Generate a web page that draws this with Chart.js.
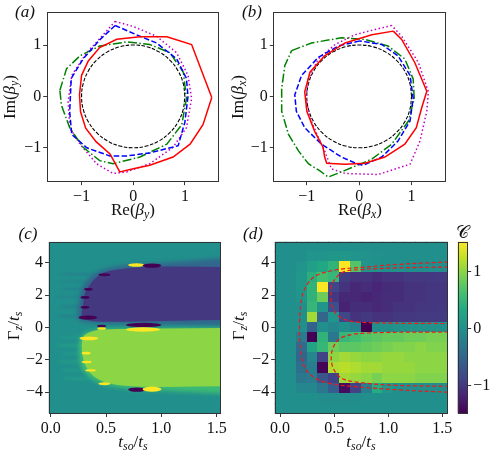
<!DOCTYPE html>
<html><head><meta charset="utf-8">
<script src="https://cdn.jsdelivr.net/npm/chart.js@4.4.0/dist/chart.umd.min.js"></script>
<style>
html,body{margin:0;padding:0;background:#fff;}
body{width:491px;height:453px;position:relative;overflow:hidden;font-family:'Liberation Serif','DejaVu Serif',serif;color:#111;}
canvas{position:absolute;}
.t{position:absolute;transform:translate(-50%,-50%);white-space:nowrap;font-size:17px;line-height:1;}
.r{transform:translate(-50%,-50%) rotate(-90deg);}
sub{font-size:70%;vertical-align:-0.3em;line-height:0;}
</style></head><body>
<canvas id="ca" width="245" height="225" style="left:0;top:0"></canvas>
<canvas id="cb" width="246" height="225" style="left:245px;top:0"></canvas>
<canvas id="cc" width="245" height="228" style="left:0;top:225px"></canvas>
<canvas id="cd" width="246" height="228" style="left:245px;top:225px"></canvas>
<canvas id="ce" width="36" height="228" style="left:455px;top:225px"></canvas>

<div class="t" style="left:25px;top:11px;font-style:italic">(a)</div>
<div class="t" style="left:252px;top:11px;font-style:italic">(b)</div>
<div class="t" style="left:28px;top:233px;font-style:italic">(c)</div>
<div class="t" style="left:253px;top:233px;font-style:italic">(d)</div>
<div class="t" style="left:133px;top:209px">Re(<i>β</i><sub><i>y</i></sub>)</div>
<div class="t r" style="left:9px;top:97px">Im(<i>β</i><sub><i>y</i></sub>)</div>
<div class="t" style="left:360px;top:209px">Re(<i>β</i><sub><i>x</i></sub>)</div>
<div class="t r" style="left:237px;top:97px">Im(<i>β</i><sub><i>x</i></sub>)</div>
<div class="t" style="left:133px;top:441px"><i>t</i><sub><i>so</i></sub>/<i>t</i><sub><i>s</i></sub></div>
<div class="t r" style="left:13px;top:326px">Γ<sub><i>z</i></sub>/<i>t</i><sub><i>s</i></sub></div>
<div class="t" style="left:361px;top:441px"><i>t</i><sub><i>so</i></sub>/<i>t</i><sub><i>s</i></sub></div>
<div class="t r" style="left:238px;top:326px">Γ<sub><i>z</i></sub>/<i>t</i><sub><i>s</i></sub></div>
<div class="t" style="left:462px;top:232px;font-size:18px">𝒞</div>

<script>
// ---------- panel (a) data ----------
const aRedX = [1.52, 1.13, 0.65, 0.13, -0.32, -0.65, -0.87, -1.0, -1.04, -1.02, -0.92, -0.72, -0.45, -0.26, 0.0, 0.32, 0.77, 1.1, 1.35, 1.52];
const aRedY = [-0.02, 1.01, 1.16, 1.16, 1.11, 0.95, 0.69, 0.41, 0.03, -0.3, -0.62, -0.88, -1.12, -1.47, -1.41, -1.34, -1.18, -0.93, -0.55, -0.02];
const aBlueX = [-0.35, -0.65, -0.97, -1.2, -1.23, -1.19, -0.9, -0.45, -0.13, 0.32, 0.87, 1.0, 1.06, 1.03, 0.84, 0.45, 0.06, -0.35];
const aBlueY = [1.38, 1.1, 0.73, 0.35, -0.3, -0.74, -1.0, -1.16, -1.16, -1.1, -0.96, -0.5, 0.0, 0.35, 0.73, 1.04, 1.2, 1.38];
const aMagX = [-0.35, 0.0, 0.45, 0.84, 1.06, 1.13, 1.03, 0.77, 0.32, -0.13, -0.39, -0.71, -1.03, -1.23, -1.26, -1.19, -0.9, -0.58, -0.35];
const aMagY = [1.46, 1.36, 1.17, 0.85, 0.41, -0.04, -0.61, -0.99, -1.31, -1.47, -1.5, -1.31, -0.93, -0.61, -0.1, 0.41, 0.85, 1.2, 1.46];
const aGreenX = [-1.42, -1.29, -1.03, -0.65, -0.13, 0.32, 0.71, 0.97, 1.03, 0.94, 0.65, 0.13, -0.39, -0.65, -0.97, -1.23, -1.39, -1.42];
const aGreenY = [0.12, 0.54, 0.79, 0.98, 1.06, 1.01, 0.85, 0.47, -0.04, -0.55, -0.93, -1.18, -1.31, -1.25, -0.99, -0.61, -0.17, 0.12];
// unit circle (both panels)
const circX = [1, 0.966, 0.866, 0.707, 0.5, 0.259, 0, -0.259, -0.5, -0.707, -0.866, -0.966, -1, -0.966, -0.866, -0.707, -0.5, -0.259, 0, 0.259, 0.5, 0.707, 0.866, 0.966, 1];
const circY = [0, 0.259, 0.5, 0.707, 0.866, 0.966, 1, 0.966, 0.866, 0.707, 0.5, 0.259, 0, -0.259, -0.5, -0.707, -0.866, -0.966, -1, -0.966, -0.866, -0.707, -0.5, -0.259, 0];
// ---------- panel (b) data ----------
const bRedX = [0.65, 0.24, -0.27, -0.66, -0.94, -1.04, -1.0, -0.85, -0.69, -0.66, -0.62, -0.27, 0.11, 0.49, 0.87, 1.09, 1.19, 1.29, 1.06, 0.81, 0.65];
const bRedY = [1.27, 1.2, 1.04, 0.79, 0.47, 0.09, -0.29, -0.68, -0.99, -1.18, -1.3, -1.32, -1.3, -1.18, -0.93, -0.61, -0.23, 0.1, 0.66, 1.11, 1.27];
const bMagX = [0.62, 0.3, -0.08, -0.46, -0.78, -0.97, -1.02, -0.94, -0.78, -0.66, -0.53, -0.27, 0.36, 0.97, 1.16, 1.29, 1.32, 1.13, 0.81, 0.62];
const bMagY = [1.38, 1.3, 1.2, 1.01, 0.73, 0.34, -0.04, -0.42, -0.8, -1.06, -1.41, -1.5, -1.52, -1.32, -0.87, -0.29, 0.09, 0.66, 1.17, 1.38];
const bGreenX = [-1.29, -0.91, -0.34, 0.11, 0.55, 0.87, 1.03, 1.05, 0.94, 0.62, 0.24, -0.27, -0.59, -0.75, -0.97, -1.16, -1.35, -1.48, -1.48, -1.42, -1.29];
const bGreenY = [0.89, 1.04, 1.14, 1.11, 0.98, 0.73, 0.34, -0.04, -0.48, -0.93, -1.22, -1.44, -1.57, -1.45, -1.31, -1.06, -0.74, -0.29, 0.15, 0.6, 0.89];
const bBlueX = [0.01, -0.4, -0.78, -1.1, -1.23, -1.2, -1.04, -0.72, -0.34, -0.02, 0.08, 0.43, 0.74, 0.97, 1.03, 0.97, 0.74, 0.43, 0.01];
const bBlueY = [1.08, 0.98, 0.76, 0.41, 0.03, -0.29, -0.61, -0.93, -1.18, -1.32, -1.34, -1.18, -0.87, -0.48, -0.04, 0.41, 0.79, 1.01, 1.08];
// ---------- tick labels ----------
const reImTicks = [-1, 0, 1];
const tsoTicks = [0.0, 0.5, 1.0, 1.5];
const gammaTicks = [-4, -2, 0, 2, 4];
const cbarTicks = [-1, 0, 1];
// ---------- panel (c) regions ----------
const cPurpleHaloX = [1.56, 1.2, 0.9, 0.7, 0.55, 0.42, 0.33, 0.28, 0.25, 0.24, 0.25, 0.4, 0.7, 1.56];
const cPurpleHaloY = [4.3, 4.1, 3.95, 3.9, 3.75, 3.5, 3.0, 2.5, 1.5, 0.8, 0.4, 0.25, 0.22, 0.12];
const cPurpleX = [1.56, 1.2, 0.95, 0.75, 0.6, 0.5, 0.45, 0.39, 0.35, 0.31, 0.3, 0.29, 0.28, 0.28, 0.32, 0.45, 0.7, 1.56];
const cPurpleY = [3.75, 3.78, 3.78, 3.72, 3.6, 3.45, 3.3, 3.0, 2.6, 2.2, 1.8, 1.3, 0.9, 0.6, 0.45, 0.35, 0.36, 0.48];
const cGreenHaloX = [1.56, 0.5, 0.35, 0.26, 0.25, 0.27, 0.33, 0.45, 0.6, 0.8, 1.2, 1.56];
const cGreenHaloY = [-0.02, -0.02, -0.2, -0.5, -1.5, -2.5, -3.0, -3.5, -3.72, -3.85, -3.95, -4.1];
const cGreenX = [1.56, 0.5, 0.38, 0.3, 0.28, 0.28, 0.3, 0.33, 0.38, 0.47, 0.6, 0.75, 1.0, 1.56];
const cGreenY = [-0.02, -0.05, -0.2, -0.45, -0.8, -1.5, -2.1, -2.6, -3.0, -3.35, -3.55, -3.65, -3.68, -3.62];
const cPurpleVal = -1.0, cPurpleHaloVal = -0.5, cGreenVal = 1.0, cGreenHaloVal = 0.55;
// faint streaks left of the two regions
const cFringeX0 = [0.08, 0.06, 0.10, 0.05, 0.08, 0.06, 0.07, 0.05, 0.09, 0.06, 0.08, 0.10];
const cFringeX1 = [0.42, 0.33, 0.31, 0.29, 0.29, 0.28, 0.29, 0.29, 0.30, 0.31, 0.35, 0.42];
const cFringeY  = [3.3, 2.85, 2.4, 1.9, 1.3, 0.7, -0.6, -1.1, -1.6, -2.1, -2.65, -3.15];
const cFringeV  = [-0.2, -0.15, -0.2, -0.15, -0.2, -0.2, 0.15, 0.2, 0.15, 0.2, 0.15, 0.2];
const cSpotX0 = [0.70, 0.83, 0.68, 0.68, 0.70, 0.83, 0.43, 0.30, 0.27, 0.27, 0.25, 0.42, 0.42, 0.26, 0.28, 0.28, 0.31, 0.43];
const cSpotX1 = [0.85, 1.00, 1.00, 0.99, 0.86, 1.00, 0.54, 0.38, 0.35, 0.35, 0.42, 0.50, 0.50, 0.43, 0.36, 0.37, 0.41, 0.54];
const cSpotY0 = [3.76, 3.70, 0.03, -0.25, -3.97, -3.97, 3.18, 2.28, 1.78, 1.17, 0.50, 0.02, -0.13, -0.78, -1.66, -2.21, -2.72, -3.56];
const cSpotY1 = [3.98, 3.97, 0.30, 0.02, -3.70, -3.65, 3.36, 2.45, 1.95, 1.34, 0.75, 0.17, 0.02, -0.55, -1.50, -2.05, -2.57, -3.38];
const cSpotV  = [1.52, -1.49, -1.49, 1.52, -1.49, 1.52, -1.49, -1.49, -1.49, -1.49, -1.49, -1.49, 1.52, 1.52, 1.52, 1.52, 1.52, 1.52];
// ---------- panel (d) grid ----------
const dX = [0.0, 0.1, 0.2, 0.3, 0.4, 0.5, 0.6, 0.7, 0.8, 0.9, 1.0, 1.1, 1.2, 1.3, 1.4, 1.5];
const dY = [5, 4.375, 3.75, 3.125, 2.5, 1.875, 1.25, 0.625, 0, -0.625, -1.25, -1.875, -2.5, -3.125, -3.75, -4.375, -5];
const dZ = [
 [0,0,0,0,0,0,0,0,0,0,0,0,0,0,0,0],
 [0,0,0,0.05,0.05,0.1,0.1,0.05,0.03,0.02,0,0,0,0,0,0],
 [0,0,0.05,0.2,0.3,0.45,1.52,0.7,0.05,0.02,0,0,-0.02,-0.03,-0.05,-0.05],
 [0,0,0.1,0.4,0.6,0.5,-0.95,-1.05,-1.05,-1.1,-1.05,-1.05,-1.0,-1.0,-1.0,-0.98],
 [0,0,0.1,0.45,1.52,-0.85,-1.05,-1.15,-1.1,-1.18,-1.12,-1.1,-1.05,-1.05,-1.02,-1.02],
 [0,0,0.05,0.45,0.85,-1.0,-1.15,-1.15,-1.2,-1.15,-1.1,-1.1,-1.05,-1.05,-1.02,-1.02],
 [0,0,0,0.5,0.05,-0.75,-1.2,-1.1,-1.1,-1.15,-1.1,-1.05,-1.05,-1.02,-1.02,-1.0],
 [0,0,0,1.1,-0.5,0.05,-0.85,-1.05,-1.0,-1.05,-1.05,-1.0,-1.0,-0.98,-0.98,-0.98],
 [0,0,0,-0.55,0.0,-0.1,0.0,-0.15,-1.49,0.0,0.0,0.03,0.03,0.03,0.03,0.03],
 [0,0,-0.25,-1.49,0.45,-0.3,0.5,0.6,0.7,0.75,0.8,0.8,0.85,0.85,0.9,0.9],
 [0,0,-0.45,0.25,0.5,0.85,0.75,0.75,0.8,0.85,0.9,0.95,0.95,1.0,0.95,0.95],
 [0,0,-0.5,-0.1,-0.9,1.0,1.1,1.05,1.0,1.0,1.05,1.05,1.0,1.0,1.0,1.0],
 [0,0,-0.4,-0.2,-1.45,1.15,1.2,1.15,1.1,1.1,1.05,1.05,1.05,1.0,1.0,1.0],
 [0,0,-0.3,-0.25,-0.7,-0.9,1.1,1.05,1.0,0.9,1.0,1.0,1.0,0.95,0.95,0.95],
 [0,0,-0.1,-0.1,-0.3,-0.6,-1.4,-0.9,-0.2,0.35,0.1,0,0,0,0,0],
 [0,0,0,0,-0.05,-0.05,-0.05,-0.05,0,0,0,0,0,0,0,0],
 [0,0,0,0,0,0,0,0,0,0,0,0,0,0,0,0]
];
// (d) contour lines
const dOuterX = [1.56, 1.07, 0.76, 0.6, 0.45, 0.32, 0.25, 0.2, 0.18, 0.19, 0.23, 0.32, 0.48, 0.76, 1.07, 1.56];
const dOuterY = [4.06, 3.9, 3.73, 3.65, 3.48, 3.17, 2.66, 1.84, 0.19, -1.46, -2.49, -3.11, -3.48, -3.69, -3.84, -4.0];
const dTopX = [1.56, 1.07, 0.76, 0.6, 0.53, 0.48, 0.47, 0.48, 0.54, 0.66, 0.91, 1.56];
const dTopY = [3.75, 3.69, 3.59, 3.48, 3.17, 2.66, 2.04, 1.32, 0.7, 0.39, 0.29, 0.25];
const dBotX = [1.56, 0.91, 0.66, 0.54, 0.48, 0.48, 0.53, 0.6, 0.76, 1.07, 1.56];
const dBotY = [-0.27, -0.31, -0.43, -0.74, -1.46, -2.29, -2.91, -3.22, -3.42, -3.57, -3.63];
// colour range
const VMIN = -1.49, VMAX = 1.52;

// ---------- helpers ----------
const VIR = [[68,1,84],[72,36,117],[65,68,135],[53,95,141],[42,120,142],[33,145,140],[34,168,132],[68,191,112],[122,209,81],[189,223,38],[253,231,37]];
function viridis(t){
  t = Math.max(0, Math.min(1, t)); const s = t*10; const i = Math.min(9, Math.floor(s)); const f = s - i;
  const a = VIR[i], b = VIR[i+1];
  return 'rgb(' + [0,1,2].map(k => Math.round(a[k] + (b[k]-a[k])*f)).join(',') + ')';
}
function cmap(v){ return viridis((v - VMIN)/(VMAX - VMIN)); }
const FAMILY = "'Liberation Serif', 'DejaVu Serif', serif";
Chart.defaults.font.family = FAMILY;
Chart.defaults.font.size = 16;
Chart.defaults.color = '#111';
const FONT = {family: FAMILY, size: 16, style: 'normal', weight: 'normal'};
const minus = v => (v < 0 ? '\u2212' + Math.abs(v) : String(v));
const fix1 = v => v.toFixed(1);
function mkScale(min, max, vals, fmt, fitKey, fitVal, extra){
  return Object.assign({
    type: 'linear', min, max,
    afterBuildTicks: s => { s.ticks = vals.map(v => ({value: v})); },
    afterFit: s => { s[fitKey] = fitVal; },
    grid: {drawOnChartArea: false, drawTicks: true, tickLength: 3.5, lineWidth: 0.9, color: '#222'},
    border: {display: false},
    ticks: {font: FONT, color: '#111', padding: 2, maxRotation: 0, autoSkip: false, callback: v => fmt(v)}
  }, extra || {});
}
const frame = {id: 'frame', afterDraw(chart){
  const {ctx, chartArea: a} = chart; ctx.save(); ctx.strokeStyle = '#333'; ctx.lineWidth = 1;
  ctx.strokeRect(Math.round(a.left)+0.5, Math.round(a.top)+0.5, Math.round(a.right-a.left)-1, Math.round(a.bottom-a.top)-1); ctx.restore(); }};
function line(xs, ys, color, dash, w, tension){
  return {data: xs.map((x, i) => ({x, y: ys[i]})), showLine: true, borderColor: color, borderWidth: w,
    borderDash: dash, pointRadius: 0, pointHoverRadius: 0, fill: false, tension: tension || 0};
}
function baseOpts(pad, xs, ys){
  return {responsive: false, animation: false, events: [], devicePixelRatio: 1,
    layout: {padding: pad}, plugins: {legend: {display: false}, tooltip: {enabled: false}},
    scales: {x: xs, y: ys}};
}
const DASH = [5.5, 2.4], DOT = [1.5, 2.5], DASHDOT = [9, 2.4, 1.5, 2.4], CDASH = [3.7, 1.6];

// ---------- (a) ----------
new Chart(document.getElementById('ca'), {type: 'scatter',
  data: {datasets: [
    line(aRedX, aRedY, '#ff0000', [], 1.5),
    line(aBlueX, aBlueY, '#0000ff', DASH, 1.5),
    line(aGreenX, aGreenY, '#008000', DASHDOT, 1.5),
    line(aMagX, aMagY, '#bf00bf', DOT, 1.5),
    line(circX, circY, '#000000', CDASH, 1.1, 0.4)]},
  options: baseOpts({left: 16.7, top: 8.3, right: 26, bottom: 18.3},
    mkScale(-1.675, 1.66, reImTicks, minus, 'height', 25),
    mkScale(-1.66, 1.65, reImTicks, minus, 'width', 30)),
  plugins: [frame]});

// ---------- (b) ----------
new Chart(document.getElementById('cb'), {type: 'scatter',
  data: {datasets: [
    line(bRedX, bRedY, '#ff0000', [], 1.5),
    line(bBlueX, bBlueY, '#0000ff', DASH, 1.5),
    line(bGreenX, bGreenY, '#008000', DASHDOT, 1.5),
    line(bMagX, bMagY, '#bf00bf', DOT, 1.5),
    line(circX, circY, '#000000', CDASH, 1.1, 0.4)]},
  options: baseOpts({left: 3.3, top: 8.3, right: 44.3, bottom: 18.3},
    mkScale(-1.64, 1.67, reImTicks, minus, 'height', 25),
    mkScale(-1.66, 1.65, reImTicks, minus, 'width', 25)),
  plugins: [frame]});

// ---------- (c) ----------
function smoothPoly(ctx, xs, ys, sx, sy, color){
  const p = xs.map((x, i) => [sx.getPixelForValue(x), sy.getPixelForValue(ys[i])]);
  ctx.beginPath(); ctx.moveTo(p[0][0], p[0][1]);
  for (let i = 1; i < p.length - 1; i++){
    const mx = (p[i][0] + p[i+1][0])/2, my = (p[i][1] + p[i+1][1])/2;
    ctx.quadraticCurveTo(p[i][0], p[i][1], mx, my);
  }
  ctx.lineTo(p[p.length-1][0], p[p.length-1][1]); ctx.closePath();
  ctx.fillStyle = color; ctx.fill();
}
function ellipseAt(ctx, sx, sy, x0v, x1v, y0v, y1v, color){
  const x0 = sx.getPixelForValue(x0v), x1 = sx.getPixelForValue(x1v);
  const y0 = sy.getPixelForValue(y1v), y1 = sy.getPixelForValue(y0v);
  ctx.beginPath(); ctx.ellipse((x0+x1)/2, (y0+y1)/2, Math.max(0.5,(x1-x0)/2), Math.max(0.5,(y1-y0)/2), 0, 0, Math.PI*2);
  ctx.fillStyle = color; ctx.fill();
}
const heatC = {id: 'heatC', beforeDatasetsDraw(chart){
  const {ctx, chartArea: a, scales: {x, y}} = chart;
  ctx.save(); ctx.beginPath(); ctx.rect(a.left, a.top, a.right-a.left, a.bottom-a.top); ctx.clip();
  ctx.fillStyle = cmap(0); ctx.fillRect(a.left, a.top, a.right-a.left, a.bottom-a.top);
  ctx.filter = 'blur(1px)';
  cFringeV.forEach((v, i) => ellipseAt(ctx, x, y, cFringeX0[i], cFringeX1[i], cFringeY[i]-0.07, cFringeY[i]+0.07, cmap(v)));
  ctx.filter = 'blur(2px)';
  smoothPoly(ctx, cPurpleHaloX, cPurpleHaloY, x, y, cmap(cPurpleHaloVal));
  smoothPoly(ctx, cGreenHaloX, cGreenHaloY, x, y, cmap(cGreenHaloVal));
  ctx.filter = 'blur(0.6px)';
  smoothPoly(ctx, cPurpleX, cPurpleY, x, y, cmap(cPurpleVal));
  smoothPoly(ctx, cGreenX, cGreenY, x, y, cmap(cGreenVal));
  ctx.filter = 'none';
  cSpotV.forEach((v, i) => ellipseAt(ctx, x, y, cSpotX0[i], cSpotX1[i], cSpotY0[i], cSpotY1[i], cmap(v)));
  ctx.restore(); }};
new Chart(document.getElementById('cc'), {type: 'scatter', data: {datasets: []},
  options: baseOpts({left: 18.5, top: 16.7, right: 25, bottom: 14.5},
    mkScale(-0.02, 1.53, tsoTicks, fix1, 'height', 25),
    mkScale(-5.3125, 5.3125, gammaTicks, minus, 'width', 30)),
  plugins: [heatC, frame]});

// ---------- (d) ----------
const heatD = {id: 'heatD', beforeDatasetsDraw(chart){
  const {ctx, chartArea: a, scales: {x, y}} = chart;
  const DX = dX[1] - dX[0], DY = dY[0] - dY[1];
  ctx.save(); ctx.beginPath(); ctx.rect(a.left, a.top, a.right-a.left, a.bottom-a.top); ctx.clip();
  dZ.forEach((row, r) => row.forEach((v, c) => {
    const x0 = x.getPixelForValue(dX[c] - DX/2), x1 = x.getPixelForValue(dX[c] + DX/2);
    const y0 = y.getPixelForValue(dY[r] + DY/2), y1 = y.getPixelForValue(dY[r] - DY/2);
    ctx.fillStyle = cmap(v);
    ctx.fillRect(Math.floor(x0), Math.floor(y0), Math.ceil(x1) - Math.floor(x0), Math.ceil(y1) - Math.floor(y0));
  }));
  ctx.restore(); }};
const RDASH = [4, 2.5];
new Chart(document.getElementById('cd'), {type: 'scatter',
  data: {datasets: [
    line(dOuterX, dOuterY, '#f01818', RDASH, 1.2, 0.35),
    line(dTopX, dTopY, '#f01818', RDASH, 1.2, 0.35),
    line(dBotX, dBotY, '#f01818', RDASH, 1.2, 0.35)]},
  options: baseOpts({left: 3.7, top: 16.7, right: 43.3, bottom: 14.5},
    mkScale(-0.05, 1.55, tsoTicks, fix1, 'height', 25),
    mkScale(-5.3125, 5.3125, gammaTicks, minus, 'width', 26)),
  plugins: [heatD, frame]});

// ---------- colour bar ----------
const cbar = {id: 'cbar', beforeDatasetsDraw(chart){
  const {ctx, chartArea: a, scales: {y}} = chart;
  const g = ctx.createLinearGradient(0, y.getPixelForValue(VMIN), 0, y.getPixelForValue(VMAX));
  for (let k = 0; k < VIR.length; k++) g.addColorStop(k/10, 'rgb(' + VIR[k].join(',') + ')');
  ctx.save(); ctx.fillStyle = g; ctx.fillRect(a.left, a.top, a.right-a.left, a.bottom-a.top); ctx.restore(); }};
new Chart(document.getElementById('ce'), {type: 'scatter', data: {datasets: []},
  options: baseOpts({left: 2.7, top: 16.7, right: 0, bottom: 39.7},
    {type: 'linear', display: false, min: 0, max: 1},
    mkScale(VMIN, VMAX, cbarTicks, minus, 'width', 23.3, {position: 'right'})),
  plugins: [cbar, frame]});
</script>
</body></html>
